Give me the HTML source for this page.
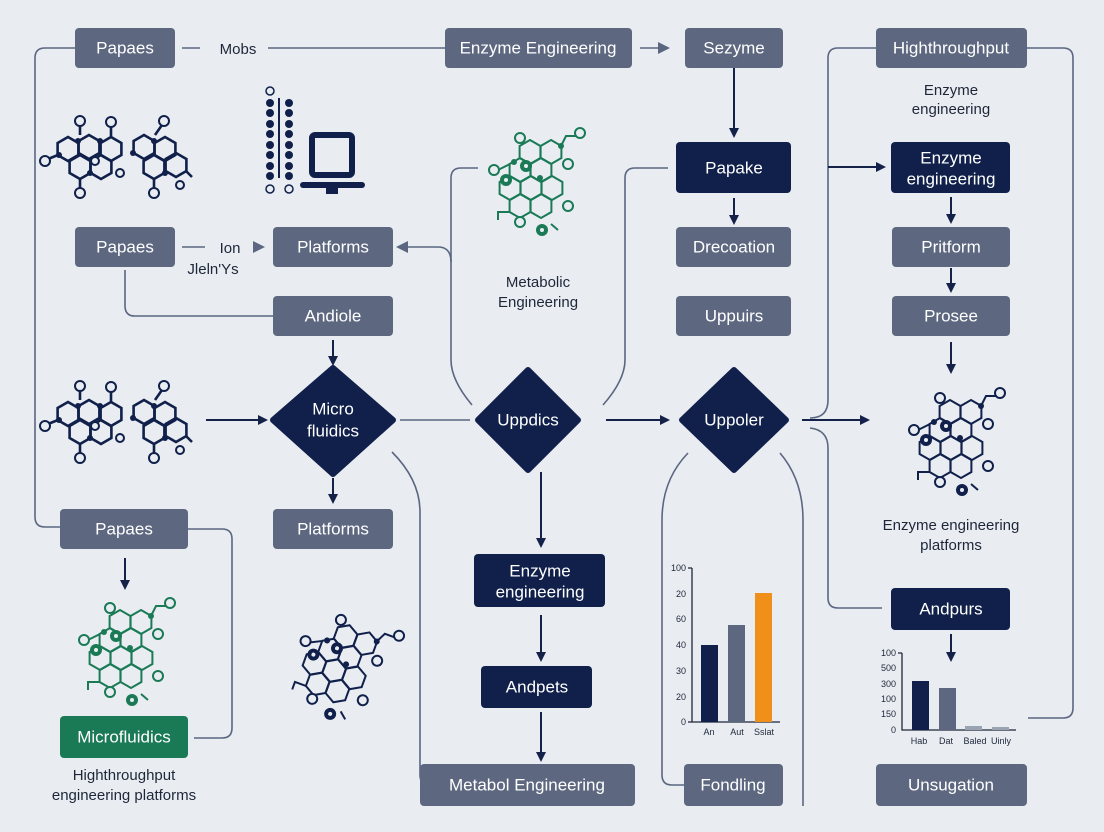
<!DOCTYPE html>
<html><head><meta charset="utf-8"><style>
html,body{margin:0;padding:0;background:#e9edf2;}
svg{display:block;font-family:"Liberation Sans",sans-serif;}
.g{fill:#5d6880}.d{fill:#10204a}
.bt{fill:#fff;font-size:17px;text-anchor:middle;dominant-baseline:central;}
.ln{fill:none;stroke:#5b6680;stroke-width:1.6}
.ar{stroke:#14224a;stroke-width:2;fill:none}
.lab{fill:#1e2638;font-size:15px;text-anchor:middle}
.ax{fill:#1e2638;font-size:9px}
</style></head><body>
<svg width="1104" height="832" viewBox="0 0 1104 832">
<defs>
<marker id="a" markerWidth="10" markerHeight="10" refX="8" refY="5" orient="auto" markerUnits="userSpaceOnUse"><path d="M0,0 L10,5 L0,10z" fill="#14224a"/></marker>
<marker id="ag" markerWidth="12" markerHeight="12" refX="10" refY="6" orient="auto" markerUnits="userSpaceOnUse"><path d="M0,0 L12,6 L0,12z" fill="#5b6680"/></marker>
<path id="hx" d="M0,-12 L10.4,-6 L10.4,6 L0,12 L-10.4,6 L-10.4,-6z"/>
<g id="mol1" fill="none" stroke-width="2.6">
<use href="#hx" x="-52" y="-6"/><use href="#hx" x="-31" y="-8"/><use href="#hx" x="-9" y="-6"/>
<use href="#hx" x="24" y="-8"/><use href="#hx" x="45" y="-6"/><use href="#hx" x="-40" y="12"/>
<use href="#hx" x="-19" y="12"/><use href="#hx" x="34" y="12"/><use href="#hx" x="56" y="10"/>
<path d="M-62,0 L-72,4 M-40,-20 L-40,-30 M-9,-18 L-9,-28 M35,-20 L42,-30 M-40,24 L-40,34 M34,24 L34,34 M66,16 L72,22"/>
<g fill="#e9edf2" stroke-width="2"><circle cx="-75" cy="6" r="5"/><circle cx="-40" cy="-34" r="5"/><circle cx="-9" cy="-33" r="5"/><circle cx="44" cy="-34" r="5"/><circle cx="-40" cy="38" r="5"/><circle cx="34" cy="38" r="5"/><circle cx="-25" cy="6" r="4"/><circle cx="0" cy="18" r="4"/><circle cx="60" cy="30" r="4"/></g>
<g fill="currentColor" stroke="none"><circle cx="-61" cy="0" r="3"/><circle cx="-42" cy="-14" r="3"/><circle cx="-20" cy="-14" r="3"/><circle cx="13" cy="-2" r="3"/><circle cx="34" cy="-14" r="3"/><circle cx="45" cy="18" r="3"/><circle cx="-30" cy="18" r="3"/></g>
</g>
<g id="mol2" fill="none" stroke-width="2">
<use href="#hx" x="0" y="0"/><use href="#hx" x="21" y="0"/><use href="#hx" x="-10" y="18"/><use href="#hx" x="11" y="18"/><use href="#hx" x="32" y="18"/>
<use href="#hx" x="0" y="36"/><use href="#hx" x="21" y="36"/><use href="#hx" x="10" y="-18"/><use href="#hx" x="31" y="-18"/>
<path d="M-10,-6 L-22,0 M41,-24 L46,-34 L58,-34 M-10,42 L-22,42 L-22,50 M31,54 L38,60"/>
<g fill="#e9edf2"><circle cx="-26" cy="0" r="5"/><circle cx="0" cy="-32" r="5"/><circle cx="48" cy="-6" r="5"/><circle cx="48" cy="36" r="5"/><circle cx="0" cy="52" r="5"/><circle cx="60" cy="-37" r="5"/></g>
<g fill="currentColor" stroke="none"><circle cx="-14" cy="10" r="6"/><circle cx="6" cy="-4" r="6"/><circle cx="22" cy="60" r="6"/><circle cx="20" cy="8" r="3"/><circle cx="41" cy="-24" r="3"/><circle cx="-6" cy="-8" r="3"/></g>
<g fill="#e9edf2" stroke="none"><circle cx="-14" cy="10" r="2"/><circle cx="6" cy="-4" r="2"/><circle cx="22" cy="60" r="2"/></g>
</g>
</defs>

<path class="ln" d="M75,48 H45 Q35,48 35,58 V517 Q35,527 45,527 H60"/>
<path class="ln" d="M182,48 H200 M268,48 H445"/>
<path class="ln" d="M640,48 H668" marker-end="url(#ag)"/>
<path class="ar" d="M734,68 V136" marker-end="url(#a)"/>
<path class="ar" d="M734,198 V223" marker-end="url(#a)"/>
<path class="ln" d="M876,48 H838 Q828,48 828,58 V400 Q828,418 810,418"/>
<path class="ar" d="M828,167 H884" marker-end="url(#a)"/>
<path class="ln" d="M1027,48 H1063 Q1073,48 1073,58 V708 Q1073,718 1063,718 H1028"/>
<path class="ar" d="M802,420 H868" marker-end="url(#a)"/>
<path class="ln" d="M810,428 Q828,430 828,448 V598 Q828,608 838,608 H882"/>
<path class="ar" d="M951,197 V222" marker-end="url(#a)"/>
<path class="ar" d="M951,268 V291" marker-end="url(#a)"/>
<path class="ar" d="M951,342 V372" marker-end="url(#a)"/>
<path class="ar" d="M951,634 V660" marker-end="url(#a)"/>
<path class="ln" d="M182,247 H205"/>
<path class="ln" d="M254,247 H263" marker-end="url(#ag)"/>
<path class="ln" d="M472,405 Q451,380 451,360 V178 Q451,168 461,168 H478"/>
<path class="ln" d="M451,262 Q451,247 438,247 H398" marker-end="url(#ag)"/>
<path class="ln" d="M603,405 Q625,380 625,360 V178 Q625,168 635,168 H668"/>
<path class="ln" d="M125,270 V306 Q125,316 135,316 H273"/>
<path class="ar" d="M333,340 V364" marker-end="url(#a)"/>
<path class="ar" d="M206,420 H266" marker-end="url(#a)"/>
<path class="ln" d="M400,420 H470"/>
<path class="ar" d="M606,420 H668" marker-end="url(#a)"/>
<path class="ar" d="M333,478 V502" marker-end="url(#a)"/>
<path class="ln" d="M392,452 Q420,480 420,512 V775 Q420,785 430,785"/>
<path class="ar" d="M125,558 V588" marker-end="url(#a)"/>
<path class="ln" d="M188,529 H222 Q232,529 232,539 V728 Q232,738 222,738 H194"/>
<path class="ar" d="M541,472 V546" marker-end="url(#a)"/>
<path class="ar" d="M541,615 V660" marker-end="url(#a)"/>
<path class="ar" d="M541,712 V760" marker-end="url(#a)"/>
<path class="ln" d="M688,453 Q662,480 662,520 V775 Q662,785 672,785 H684"/>
<path class="ln" d="M780,453 Q803,480 803,520 V806"/>

<rect class="g" x="75" y="28" width="100" height="40" rx="4"/><text class="bt" x="125" y="48">Papaes</text>
<text class="lab" x="238" y="54">Mobs</text>
<rect class="g" x="445" y="28" width="187" height="40" rx="4"/><text class="bt" x="538" y="48">Enzyme Engineering</text>
<rect class="g" x="685" y="28" width="98" height="40" rx="4"/><text class="bt" x="734" y="48">Sezyme</text>
<rect class="g" x="876" y="28" width="151" height="40" rx="4"/><text class="bt" x="951" y="48">Highthroughput</text>
<text class="lab" x="951" y="95">Enzyme</text><text class="lab" x="951" y="114">engineering</text>
<rect class="d" x="676" y="142" width="115" height="51" rx="4"/><text class="bt" x="734" y="168">Papake</text>
<rect class="d" x="891" y="142" width="119" height="51" rx="4"/><text class="bt" x="951" y="158">Enzyme</text><text class="bt" x="951" y="179">engineering</text>
<rect class="g" x="75" y="227" width="100" height="40" rx="4"/><text class="bt" x="125" y="247">Papaes</text>
<text class="lab" x="230" y="253">Ion</text><text class="lab" x="213" y="274">Jleln'Ys</text>
<rect class="g" x="273" y="227" width="120" height="40" rx="4"/><text class="bt" x="333" y="247">Platforms</text>
<rect class="g" x="676" y="227" width="115" height="40" rx="4"/><text class="bt" x="734" y="247">Drecoation</text>
<rect class="g" x="892" y="227" width="118" height="40" rx="4"/><text class="bt" x="951" y="247">Pritform</text>
<text class="lab" x="538" y="287">Metabolic</text><text class="lab" x="538" y="307">Engineering</text>
<rect class="g" x="273" y="296" width="120" height="40" rx="4"/><text class="bt" x="333" y="316">Andiole</text>
<rect class="g" x="676" y="296" width="115" height="40" rx="4"/><text class="bt" x="734" y="316">Uppuirs</text>
<rect class="g" x="892" y="296" width="118" height="40" rx="4"/><text class="bt" x="951" y="316">Prosee</text>

<path class="d" d="M333,368 L393,420 L333,474 L273,420z" stroke="#10204a" stroke-width="6" stroke-linejoin="round"/>
<text class="bt" x="333" y="409">Micro</text><text class="bt" x="333" y="431">fluidics</text>
<path class="d" d="M528,370 L578,420 L528,470 L478,420z" stroke="#10204a" stroke-width="6" stroke-linejoin="round"/>
<text class="bt" x="528" y="420">Uppdics</text>
<path class="d" d="M734,370 L786,420 L734,470 L682,420z" stroke="#10204a" stroke-width="6" stroke-linejoin="round"/>
<text class="bt" x="734" y="420">Uppoler</text>

<rect class="g" x="60" y="509" width="128" height="40" rx="4"/><text class="bt" x="124" y="529">Papaes</text>
<rect class="g" x="273" y="509" width="120" height="40" rx="4"/><text class="bt" x="333" y="529">Platforms</text>
<text class="lab" x="951" y="530">Enzyme engineering</text><text class="lab" x="951" y="550">platforms</text>
<rect class="d" x="474" y="554" width="131" height="53" rx="4"/><text class="bt" x="540" y="571">Enzyme</text><text class="bt" x="540" y="592">engineering</text>
<rect class="d" x="891" y="588" width="119" height="42" rx="4"/><text class="bt" x="951" y="609">Andpurs</text>
<rect class="d" x="481" y="666" width="111" height="42" rx="4"/><text class="bt" x="537" y="687">Andpets</text>
<rect x="60" y="716" width="128" height="42" rx="4" fill="#1a7a55"/><text class="bt" x="124" y="737">Microfluidics</text>
<text class="lab" x="124" y="780">Highthroughput</text><text class="lab" x="124" y="800">engineering platforms</text>
<rect class="g" x="420" y="764" width="215" height="42" rx="4"/><text class="bt" x="527" y="785">Metabol Engineering</text>
<rect class="g" x="684" y="764" width="99" height="42" rx="4"/><text class="bt" x="733" y="785">Fondling</text>
<rect class="g" x="876" y="764" width="151" height="42" rx="4"/><text class="bt" x="951" y="785">Unsugation</text>

<g fill="#10204a">
<circle cx="270" cy="91" r="4" fill="none" stroke="#10204a" stroke-width="1.5"/>
<circle cx="270" cy="189" r="4" fill="none" stroke="#10204a" stroke-width="1.5"/>
<circle cx="289" cy="189" r="4" fill="none" stroke="#10204a" stroke-width="1.5"/>
<rect x="278" y="98" width="2" height="80"/>
<circle cx="270" cy="103" r="4"/><circle cx="270" cy="113" r="4"/><circle cx="270" cy="124" r="4"/><circle cx="270" cy="134" r="4"/><circle cx="270" cy="145" r="4"/><circle cx="270" cy="155" r="4"/><circle cx="270" cy="166" r="4"/><circle cx="270" cy="176" r="4"/>
<circle cx="289" cy="103" r="4"/><circle cx="289" cy="113" r="4"/><circle cx="289" cy="124" r="4"/><circle cx="289" cy="134" r="4"/><circle cx="289" cy="145" r="4"/><circle cx="289" cy="155" r="4"/><circle cx="289" cy="166" r="4"/><circle cx="289" cy="176" r="4"/>
<rect x="312" y="135" width="40" height="40" rx="3" fill="none" stroke="#10204a" stroke-width="6"/>
<rect x="300" y="182" width="65" height="6" rx="3"/><rect x="326" y="186" width="12" height="8"/>
</g>
<use href="#mol1" x="120" y="155" stroke="#10204a" color="#10204a"/>
<use href="#mol1" x="120" y="420" stroke="#10204a" color="#10204a"/>
<use href="#mol2" x="520" y="170" stroke="#1a7a55" color="#1a7a55"/>
<use href="#mol2" x="110" y="640" stroke="#1a7a55" color="#1a7a55"/>
<use href="#mol2" x="940" y="430" stroke="#10204a" color="#10204a"/>
<use href="#mol2" x="330" y="650" stroke="#10204a" color="#10204a" transform="rotate(20 330 650)"/>

<g stroke="#1e2638" stroke-width="1.3" fill="none"><path d="M692,568 V722 H780 M688,568 H692 M688,722 H692"/></g>
<rect x="701" y="645" width="17" height="77" fill="#10204a"/>
<rect x="728" y="625" width="17" height="97" fill="#5d6880"/>
<rect x="755" y="593" width="17" height="129" fill="#f0901a"/>
<g class="ax" text-anchor="end"><text x="686" y="571">100</text><text x="686" y="597">20</text><text x="686" y="622">60</text><text x="686" y="648">40</text><text x="686" y="674">30</text><text x="686" y="700">20</text><text x="686" y="725">0</text></g>
<g class="ax" text-anchor="middle"><text x="709" y="735">An</text><text x="737" y="735">Aut</text><text x="764" y="735">Sslat</text></g>
<g stroke="#1e2638" stroke-width="1.3" fill="none"><path d="M902,653 V730 H1016 M898,653 H902"/></g>
<rect x="912" y="681" width="17" height="49" fill="#10204a"/>
<rect x="939" y="688" width="17" height="42" fill="#5d6880"/>
<rect x="965" y="726" width="17" height="4" fill="#9aa3b2"/>
<rect x="992" y="727" width="17" height="3" fill="#9aa3b2"/>
<g class="ax" text-anchor="end"><text x="896" y="656">100</text><text x="896" y="671">500</text><text x="896" y="687">300</text><text x="896" y="702">100</text><text x="896" y="717">150</text><text x="896" y="733">0</text></g>
<g class="ax" text-anchor="middle"><text x="919" y="744">Hab</text><text x="946" y="744">Dat</text><text x="975" y="744">Baled</text><text x="1001" y="744">Uinly</text></g>
</svg>
</body></html>
